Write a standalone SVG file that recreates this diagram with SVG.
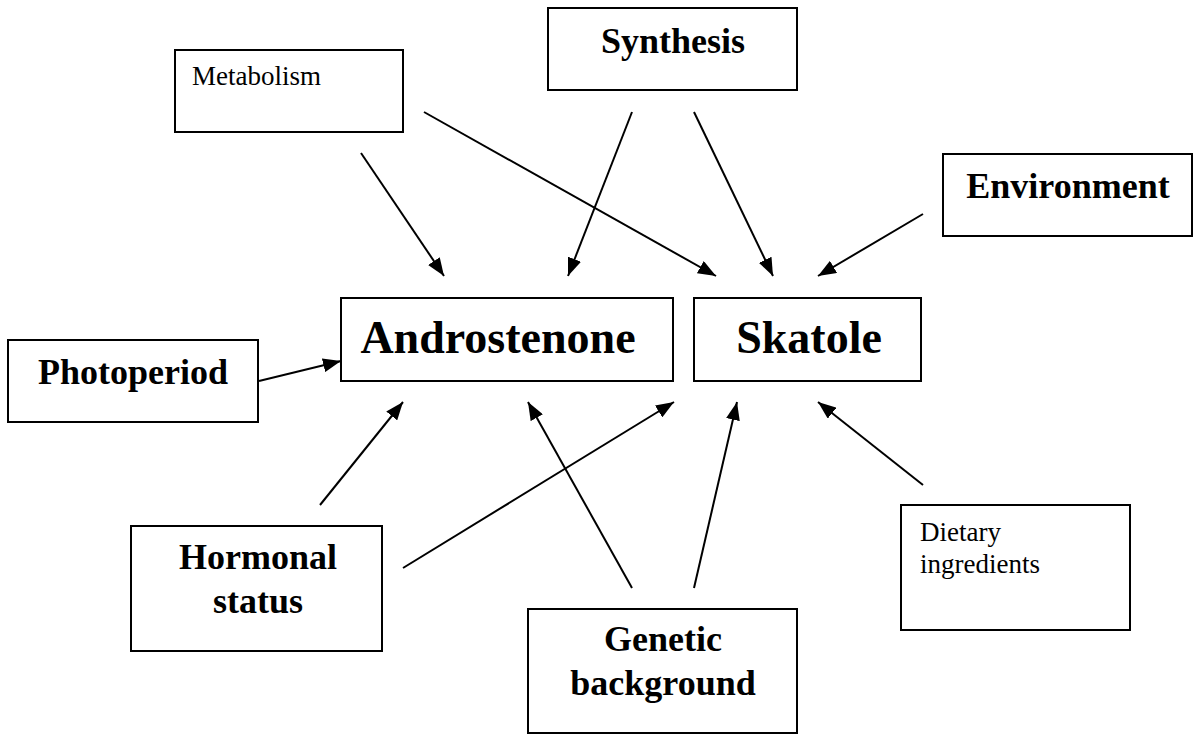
<svg xmlns="http://www.w3.org/2000/svg" width="1200" height="742" viewBox="0 0 1200 742">
<style>
.box{fill:#fff;stroke:#000;stroke-width:2}
.b{font-family:"Liberation Serif",serif;font-weight:bold;font-size:36px;fill:#000}
.big{font-family:"Liberation Serif",serif;font-weight:bold;font-size:46px;fill:#000}
.r{font-family:"Liberation Serif",serif;font-size:27px;fill:#000}
.c line{stroke:#000;stroke-width:2;marker-end:url(#ah)}
</style>
<defs>
<marker id="ah" viewBox="0 0 18 14" refX="18" refY="7" markerWidth="18" markerHeight="14" markerUnits="userSpaceOnUse" orient="auto">
<path d="M0,0 L18,7 L0,14 Z" fill="#000"/>
</marker>
</defs>
<rect width="1200" height="742" fill="#fff"/>
<g id="metabolism"><rect class="box" x="175" y="50" width="228" height="82"/><text class="r" x="192" y="85">Metabolism</text></g>
<g id="synthesis"><rect class="box" x="548" y="8" width="249" height="82"/><text class="b" x="673" y="53" text-anchor="middle">Synthesis</text></g>
<g id="environment"><rect class="box" x="943" y="154" width="249" height="82"/><text class="b" x="1068" y="198" text-anchor="middle">Environment</text></g>
<g id="androstenone"><rect class="box" x="341" y="298" width="332" height="83"/><text class="big" x="498" y="353" text-anchor="middle">Androstenone</text></g>
<g id="skatole"><rect class="box" x="694" y="298" width="227" height="83"/><text class="big" x="809" y="353" text-anchor="middle">Skatole</text></g>
<g id="photoperiod"><rect class="box" x="8" y="340" width="250" height="82"/><text class="b" x="133" y="384" text-anchor="middle">Photoperiod</text></g>
<g id="hormonal"><rect class="box" x="131" y="526" width="251" height="125"/><text class="b" x="258" y="569" text-anchor="middle">Hormonal</text><text class="b" x="258" y="613" text-anchor="middle">status</text></g>
<g id="genetic"><rect class="box" x="528" y="609" width="269" height="124"/><text class="b" x="663" y="651" text-anchor="middle">Genetic</text><text class="b" x="663" y="695" text-anchor="middle">background</text></g>
<g id="dietary"><rect class="box" x="901" y="505" width="229" height="125"/><text class="r" x="920" y="541">Dietary</text><text class="r" x="920" y="573">ingredients</text></g>
<g id="connectors" class="c">
<line x1="361" y1="153" x2="444" y2="276"/>
<line x1="424" y1="112" x2="716" y2="276"/>
<line x1="632" y1="112" x2="568" y2="276"/>
<line x1="694" y1="112" x2="773" y2="276"/>
<line x1="923" y1="214" x2="818" y2="276"/>
<line x1="259" y1="381" x2="341" y2="361"/>
<line x1="320" y1="505" x2="403" y2="402"/>
<line x1="403" y1="568" x2="674" y2="402"/>
<line x1="632" y1="588" x2="528" y2="402"/>
<line x1="694" y1="588" x2="737" y2="402"/>
<line x1="923" y1="485" x2="818" y2="402"/>
</g>
</svg>
